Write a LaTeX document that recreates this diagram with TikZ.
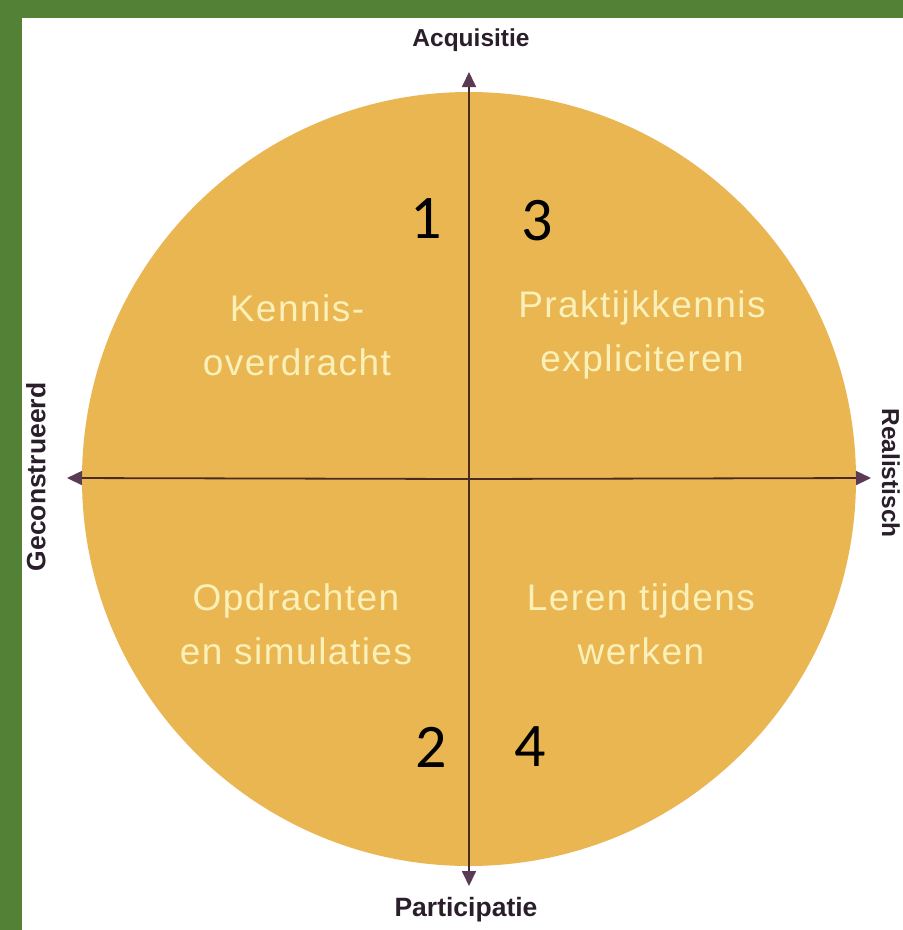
\documentclass[tikz,border=0pt]{standalone}
\usepackage{fontspec}
\setmainfont{Liberation Sans}
\newfontfamily\numfont{Carlito}
\newfontfamily\quadfont[LetterSpace=4]{Liberation Sans}
\usetikzlibrary{arrows.meta}
\definecolor{framegreen}{HTML}{538135}
\definecolor{discfill}{HTML}{EAB652}
\definecolor{quadtext}{HTML}{FAF0B8}
\definecolor{axisline}{HTML}{4A2A22}
\definecolor{tipcol}{HTML}{5B3A55}
\definecolor{labelcol}{HTML}{2A1E2A}
\tikzset{
  axis/.style={line width=1.8pt, draw=axisline,
    -{Triangle[width=14pt,length=15pt,color=tipcol,fill=tipcol]}},
  quad/.style={text=quadtext, font=\quadfont\fontsize{37}{54}\selectfont, align=center, inner sep=0pt},
  num/.style={text=black, font=\numfont\fontsize{62}{62}\selectfont, inner sep=0pt},
  axlabel/.style={text=labelcol, inner sep=0pt},
  small label/.style={axlabel, font=\bfseries\fontsize{24.5}{24.5}\selectfont},
  big label/.style={axlabel, font=\bfseries\fontsize{26.5}{26.5}\selectfont}
}
\begin{document}
\begin{tikzpicture}[x=1pt,y=-1pt]
\useasboundingbox (0,0) rectangle (903,930);
\fill[framegreen] (0,0) rectangle (903,930);
\fill[white] (22,18) rectangle (903,930);
\fill[discfill] (469,479) circle (387);
\coordinate (c) at (469,479);
\coordinate (top) at (469,72);
\coordinate (bot) at (469,886);
\coordinate (lft) at (67,478);
\coordinate (rgt) at (871,478);
\draw[axis] (c) -- (top);
\draw[axis] (c) -- (bot);
\draw[axis] (c) -- (lft);
\draw[axis] (c) -- (rgt);
\node[small label] (acq) at (471,40) {Acquisitie};
\node[big label] (par) at (466,910) {Participatie};
\node[big label, rotate=90] (gec) at (36,477) {Geconstrueerd};
\node[small label, rotate=-90] (rea) at (891,473) {Realistisch};
\node[quad] (q1) at (297,335) {Kennis-\\overdracht};
\node[quad] (q3) at (642,335) {Praktijkkennis\\expliciteren};
\node[quad] (q2) at (296,624) {Opdrachten\\en simulaties};
\node[quad] (q4) at (641,624) {Leren tijdens\\werken};
\node[num] (n1) at (426,219) {1};
\node[num] (n3) at (537,221) {3};
\node[num] (n2) at (431,747) {2};
\node[num] (n4) at (530,747) {4};
\end{tikzpicture}
\end{document}
